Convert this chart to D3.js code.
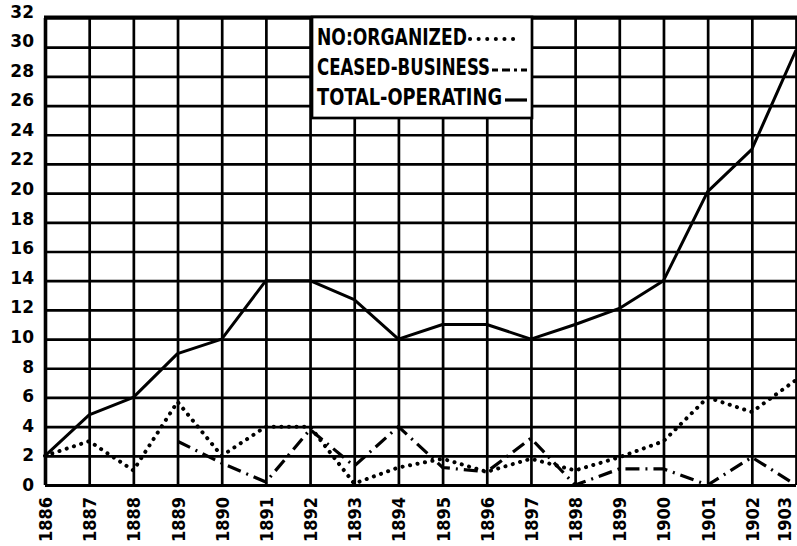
<!DOCTYPE html>
<html>
<head>
<meta charset="utf-8">
<script src="https://cdn.jsdelivr.net/npm/d3@7/dist/d3.min.js"></script>
<style>
  body { margin: 0; background: #fff; }
  svg { display: block; }
</style>
</head>
<body>
<svg id="chart" width="797" height="546"></svg>
<script>
// Data
const years = [1886, 1887, 1888, 1889, 1890, 1891, 1892, 1893, 1894,
               1895, 1896, 1897, 1898, 1899, 1900, 1901, 1902, 1903];
const totalOperating = [2, 4.8, 6, 9, 10, 14, 14, 12.7, 10,
                        11, 11, 10, 11, 12.1, 14, 20.1, 23, 29.8];
const noOrganized = [2, 3, 1, 5.7, 2, 4, 4, 0.1, 1.2,
                     1.8, 0.9, 1.8, 1, 1.9, 3, 6, 5, 7.2];
const ceasedBusiness = [null, null, null, 3, 1.5, 0.2, 3.8, 1.3, 4,
                        1.2, 0.9, 3.2, 0, 1.1, 1.1, 0, 1.9, 0];
const yTicks = d3.range(0, 33, 2);
const legendLabels = ["NO:ORGANIZED", "CEASED-BUSINESS", "TOTAL-OPERATING"];

const svg = d3.select("#chart");

// plot area
const plot = {left: 45, right: 796, top: 18, bottom: 485};

const x = d3.scaleLinear().domain([1886, 1903]).range([plot.left, plot.right]);
const y = d3.scaleLinear().domain([0, 32]).range([plot.bottom, plot.top]);

////////// Grid + axes //////////

const yAxis = svg.append("g")
    .attr("transform", `translate(${plot.left},0)`)
    .call(d3.axisLeft(y)
        .tickValues(yTicks)
        .tickSize(-(plot.right - plot.left))
        .tickPadding(11)
        .tickFormat(d3.format("d")));
yAxis.select(".domain").remove();
yAxis.selectAll(".tick line")
    .attr("stroke", "#000")
    .attr("stroke-width", d => d === 0 ? 3.2 : 2.7);
yAxis.selectAll(".tick text")
    .attr("fill", "#000")
    .attr("font-family", "'DejaVu Sans', sans-serif")
    .attr("font-weight", "bold")
    .attr("font-size", 17)
    .attr("dy", d => (0.32 * 17 - d * 0.2) + "px");

const xAxis = svg.append("g")
    .attr("transform", `translate(0,${plot.bottom})`)
    .call(d3.axisBottom(x)
        .tickValues(years)
        .tickSize(-(plot.bottom - plot.top))
        .tickFormat(d3.format("d")));
xAxis.select(".domain").remove();
xAxis.selectAll(".tick line")
    .attr("stroke", "#000")
    .attr("stroke-width", d => d === 1886 ? 3.6 : 2.7);
xAxis.selectAll(".tick text")
    .attr("fill", "#000")
    .attr("font-family", "'DejaVu Sans Condensed', 'DejaVu Sans', sans-serif")
    .attr("font-stretch", "condensed")
    .attr("font-weight", "bold")
    .attr("font-size", 18)
    .attr("text-anchor", "end")
    .attr("transform", "rotate(-90)")
    .attr("x", -12)
    .attr("y", d => d === 1903 ? -12 : 0)   // keep last label inside the page
    .attr("dy", "0.36em");

////////// Series //////////

const line = d3.line()
    .defined(d => d[1] !== null)
    .x(d => x(d[0]))
    .y(d => y(d[1]));

// ceased business - long dash / dot
svg.append("path")
    .datum(years.map((yr, i) => [yr, ceasedBusiness[i]]))
    .attr("fill", "none")
    .attr("stroke", "#000")
    .attr("stroke-width", 3.2)
    .attr("stroke-dasharray", "14 6 2 6")
    .attr("d", line);

// number organized - dotted
svg.append("path")
    .datum(years.map((yr, i) => [yr, noOrganized[i]]))
    .attr("fill", "none")
    .attr("stroke", "#000")
    .attr("stroke-width", 4)
    .attr("stroke-linecap", "round")
    .attr("stroke-dasharray", "0.1 7.5")
    .attr("d", line);

// total operating - solid
svg.append("path")
    .datum(years.map((yr, i) => [yr, totalOperating[i]]))
    .attr("fill", "none")
    .attr("stroke", "#000")
    .attr("stroke-width", 3)
    .attr("stroke-linejoin", "round")
    .attr("d", line);

// top border
svg.append("line")
    .attr("x1", plot.left - 1).attr("x2", plot.right + 1)
    .attr("y1", plot.top - 1).attr("y2", plot.top - 1)
    .attr("stroke", "#000").attr("stroke-width", 3);

////////// Legend //////////

const legend = svg.append("g");
legend.append("rect")
    .attr("x", 312).attr("y", plot.top - 1)
    .attr("width", 220).attr("height", 101)
    .attr("fill", "#fff")
    .attr("stroke", "#000")
    .attr("stroke-width", 2.7);

const textWidths = [150, 173, 185];
legend.selectAll("text")
    .data(legendLabels)
    .join("text")
    .attr("x", 317)
    .attr("y", (d, i) => 45 + i * 30)
    .attr("font-family", "'DejaVu Sans Condensed', 'DejaVu Sans', sans-serif")
    .attr("font-weight", "bold")
    .attr("font-size", 23)
    .attr("fill", "#000")
    .attr("textLength", (d, i) => textWidths[i])
    .attr("lengthAdjust", "spacingAndGlyphs")
    .text(d => d);

legend.append("line")
    .attr("x1", 470).attr("x2", 514).attr("y1", 39).attr("y2", 39)
    .attr("stroke", "#000").attr("stroke-width", 4)
    .attr("stroke-linecap", "round").attr("stroke-dasharray", "0.1 8.5");
legend.append("line")
    .attr("x1", 492).attr("x2", 528).attr("y1", 70).attr("y2", 70)
    .attr("stroke", "#000").attr("stroke-width", 3.2)
    .attr("stroke-dasharray", "6 4 8 4 3 4");
legend.append("line")
    .attr("x1", 505).attr("x2", 527).attr("y1", 100).attr("y2", 100)
    .attr("stroke", "#000").attr("stroke-width", 3.2);
</script>
</body>
</html>
